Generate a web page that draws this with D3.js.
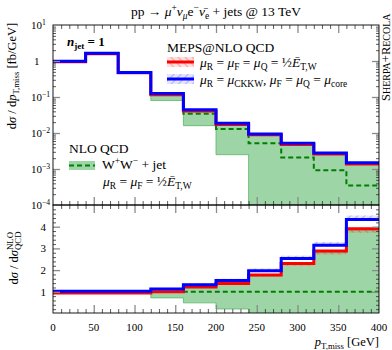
<!DOCTYPE html>
<html><head><meta charset="utf-8">
<script src="https://cdn.jsdelivr.net/npm/d3@7"></script>
<style>
body{margin:0;background:#fff}
svg{display:block}
text{font-family:"Liberation Serif","DejaVu Serif",serif;fill:#000}
</style>
</head><body>
<svg id="c" width="392" height="350"></svg>
<script>
// ---------- data ----------
const binEdges = [0,40,80,120,160,200,240,280,320,360,400];
// upper panel: dsigma/dpT,miss [fb/GeV]
const coreMain = [0.95,1.6,0.47,0.115,0.041,0.0172,0.0090,0.0048,0.0026,0.00137];      // red  mu = 1/2 E_T,W
const coreMainLo = [0.93,1.57,0.46,0.112,0.040,0.0168,0.0088,0.0047,0.00253,0.00133];
const coreMainHi = [0.96,1.62,0.475,0.116,0.0415,0.0174,0.0091,0.00485,0.00263,0.00139];
const ckkwMain = [0.98,1.65,0.48,0.126,0.044,0.0186,0.0094,0.0052,0.0028,0.0015];      // blue mu = mu_CKKW
const ckkwMainLo = [0.97,1.63,0.475,0.124,0.0435,0.0184,0.0093,0.00515,0.00277,0.00148];
const ckkwMainHi = [1.01,1.69,0.495,0.13,0.0455,0.0192,0.0098,0.0054,0.00292,0.00155];
const nloMain = [null,null,null,0.115,0.034,0.0129,0.0052,0.0021,0.00092,0.00035];     // NLO QCD W+W- + jet
const nloMainLo = [null,null,null,0.08,0.016,0.0025,0,0,0,0];
const nloMainHi = [null,null,null,0.113,0.040,0.017,0.0088,0.0047,0.00255,0.00134];
// lower panel: ratio to NLO QCD
const coreRatio = [0.95,0.95,0.95,1.0,1.22,1.38,1.77,2.3,2.88,3.9];
const coreRatioLo = [0.91,0.91,0.91,0.96,1.17,1.32,1.7,2.2,2.72,3.72];
const coreRatioHi = [0.97,0.97,0.97,1.02,1.24,1.4,1.8,2.34,2.92,3.95];
const ckkwRatio = [1.02,1.02,1.03,1.13,1.33,1.52,1.97,2.54,3.14,4.33];
const ckkwRatioLo = [1.0,1.0,1.01,1.11,1.31,1.5,1.94,2.51,3.1,4.29];
const ckkwRatioHi = [1.07,1.07,1.08,1.19,1.41,1.6,2.07,2.66,3.3,4.52];
const nloRatio = [null,null,null,1,1,1,1,1,1,1];
const nloRatioLo = [null,null,null,0.72,0.49,0.21,0,0,0,0];
const nloRatioHi = [null,null,null,0.99,1.2,1.36,1.74,2.26,2.84,3.86];
// ticks
const xTicks = [0,50,100,150,200,250,300,350,400];
const upperTicks = [10,1,0.1,0.01,0.001,0.0001];
const upperTickExp = [1,0,-1,-2,-3,-4];
const lowerTicks = [1,2,3,4];

// ---------- layout ----------
const X0=53, X1=379, YT=25, YM=205, YB=313;
const svg = d3.select('#c');
const x = d3.scaleLinear().domain([0,400]).range([X0,X1]);
const yU = d3.scaleLog().domain([1e-4,10]).range([YM,YT]);
const yL = d3.scaleLinear().domain([0,5]).range([YB+0.5,YM]);

const RED='#ff0000', BLUE='#0000ff', GFILL='#9dd5a6', GEDGE='#5cb567', GDASH='#007f00';

const defs = svg.append('defs');
function hatch(id, color, bg, angle){
  const p = defs.append('pattern').attr('id',id).attr('width',5).attr('height',5)
    .attr('patternUnits','userSpaceOnUse').attr('patternTransform','rotate('+angle+')');
  p.append('rect').attr('width',5).attr('height',5).attr('fill',bg);
  p.append('line').attr('x1',0).attr('y1',0).attr('x2',0).attr('y2',5).attr('stroke',color).attr('stroke-width',1.2);
}
hatch('hR','rgba(255,0,0,0.5)','rgba(255,0,0,0.12)',-45);
hatch('hB','rgba(0,0,255,0.4)','rgba(0,0,255,0.1)',45);
defs.append('clipPath').attr('id','cU').append('rect').attr('x',X0).attr('y',YT).attr('width',X1-X0).attr('height',YM-YT);
defs.append('clipPath').attr('id','cL').append('rect').attr('x',X0).attr('y',YM).attr('width',X1-X0).attr('height',YB-YM);

function pts(vals){ return binEdges.map((e,i)=>({x:e, v: vals[Math.min(i, vals.length-1)]})); }
function bandPts(lo,hi){ return binEdges.map((e,i)=>{const k=Math.min(i,lo.length-1); return {x:e, lo:lo[k], hi:hi[k]};}); }

function drawPanel(g, y, minV, d){
  const Y = v => y(Math.max(v, minV));
  const line = d3.line().defined(p=>p.v!=null).x(p=>x(p.x)).y(p=>Y(p.v)).curve(d3.curveStepAfter);
  const area = d3.area().defined(p=>p.lo!=null).x(p=>x(p.x)).y0(p=>Y(p.lo)).y1(p=>Y(p.hi)).curve(d3.curveStepAfter);
  g.append('path').attr('d',area(bandPts(d.nloLo,d.nloHi))).attr('fill',GFILL).attr('stroke',GEDGE).attr('stroke-width',0.8);
  g.append('path').attr('d',line(pts(d.nlo))).attr('fill','none').attr('stroke',GDASH).attr('stroke-width',2).attr('stroke-dasharray','5,3');
  g.append('path').attr('d',area(bandPts(d.coreLo,d.coreHi))).attr('fill','url(#hR)');
  g.append('path').attr('d',area(bandPts(d.ckkwLo,d.ckkwHi))).attr('fill','url(#hB)');
  g.append('path').attr('d',line(pts(d.core))).attr('fill','none').attr('stroke',RED).attr('stroke-width',3);
  g.append('path').attr('d',line(pts(d.ckkw))).attr('fill','none').attr('stroke',BLUE).attr('stroke-width',3);
}
drawPanel(svg.append('g').attr('clip-path','url(#cU)'), yU, 1e-4,
  {nlo:nloMain,nloLo:nloMainLo,nloHi:nloMainHi,core:coreMain,coreLo:coreMainLo,coreHi:coreMainHi,ckkw:ckkwMain,ckkwLo:ckkwMainLo,ckkwHi:ckkwMainHi});
drawPanel(svg.append('g').attr('clip-path','url(#cL)'), yL, 0,
  {nlo:nloRatio,nloLo:nloRatioLo,nloHi:nloRatioHi,core:coreRatio,coreLo:coreRatioLo,coreHi:coreRatioHi,ckkw:ckkwRatio,ckkwLo:ckkwRatioLo,ckkwHi:ckkwRatioHi});

// ---------- axes / ticks ----------
const MAJ='#8a8a8a', MIN='#333';
function styleAxis(g, col, w){ g.select('.domain').remove(); g.selectAll('.tick line').attr('stroke',col).attr('stroke-width',w); g.selectAll('.tick text').remove(); }
const xMinor = d3.range(0,401,10).filter(v=>v%50!==0);
[[YT,'top'],[YM,'bottom'],[YM,'top'],[YB,'bottom']].forEach(([yy,side])=>{
  const mk = side==='top' ? d3.axisBottom : d3.axisTop;
  svg.append('g').attr('transform',`translate(0,${yy})`).call(mk(x).tickValues(xMinor).tickSize(4).tickFormat('')).call(g=>styleAxis(g,MIN,0.8));
  svg.append('g').attr('transform',`translate(0,${yy})`).call(mk(x).tickValues(xTicks.slice(1,-1)).tickSize(8).tickFormat('')).call(g=>styleAxis(g,MAJ,1.3));
});
const uMinor = [];
for(let e=-4;e<1;e++) for(let m=2;m<10;m++) uMinor.push(m*Math.pow(10,e));
[[X0,d3.axisRight],[X1,d3.axisLeft]].forEach(([xx,mk])=>{
  svg.append('g').attr('transform',`translate(${xx},0)`).call(mk(yU).tickValues(uMinor).tickSize(3).tickFormat('')).call(g=>styleAxis(g,MIN,0.8));
  svg.append('g').attr('transform',`translate(${xx},0)`).call(mk(yU).tickValues(upperTicks.slice(1,-1)).tickSize(7).tickFormat('')).call(g=>styleAxis(g,MAJ,1.3));
  svg.append('g').attr('transform',`translate(${xx},0)`).call(mk(yL).tickValues(d3.range(0.2,5,0.2).filter(v=>Math.abs(v-Math.round(v))>0.01)).tickSize(3).tickFormat('')).call(g=>styleAxis(g,MIN,0.8));
  svg.append('g').attr('transform',`translate(${xx},0)`).call(mk(yL).tickValues(lowerTicks).tickSize(7).tickFormat('')).call(g=>styleAxis(g,MAJ,1.3));
});
svg.append('rect').attr('x',X0).attr('y',YT).attr('width',X1-X0).attr('height',YM-YT).attr('fill','none').attr('stroke','#000').attr('stroke-width',0.9);
svg.append('rect').attr('x',X0).attr('y',YM).attr('width',X1-X0).attr('height',YB-YM).attr('fill','none').attr('stroke','#000').attr('stroke-width',0.9);

// ---------- text helper ----------
function rich(g, xx, yy, parts, o={}){
  const fs = o.size||12;
  const t = g.append('text').attr('x',xx).attr('y',yy).attr('font-size',fs).attr('text-anchor',o.anchor||'start');
  if(o.transform) t.attr('transform',o.transform);
  if(o.bold) t.attr('font-weight','bold');
  let lastSup=null;
  parts.forEach(p=>{
    const [s,st] = Array.isArray(p)?p:[p,''];
    const ts = t.append('tspan').text(s);
    if(st.includes('i')) ts.attr('font-style','italic');
    if(st.includes('b')) ts.attr('font-weight','bold');
    if(st.includes('_')) ts.attr('font-size',fs*0.7).style('baseline-shift',(-fs*0.25)+'px');
    if(st.includes('^')) ts.attr('font-size',fs*0.7).style('baseline-shift',(fs*0.4)+'px');
    if(st.includes('&') && lastSup) ts.attr('dx', -lastSup.node().getComputedTextLength());
    if(st.includes('^')) lastSup=ts;
  });
  return t;
}

upperTicks.forEach((v,i)=>{
  const yy = yU(v)+4;
  if(upperTickExp[i]===0) rich(svg, 34, yy, ['1'], {size:11});
  else rich(svg, 31, yy, ['10',[(upperTickExp[i]<0?'\u2212':'')+Math.abs(upperTickExp[i]),'^']], {size:11});
});
lowerTicks.forEach(v=> rich(svg, 46, yL(v)+4, [String(v)], {size:11, anchor:'end'}));
xTicks.forEach(v=> rich(svg, x(v), 331, [String(v)], {size:11, anchor:'middle'}));

rich(svg, X1, 346, [['p','i'],['T,miss','_'],' [GeV]'], {size:12.5, anchor:'end'});
rich(svg, 0, 0, ['d',['\u03c3','i'],' / d',['p','i'],['T,miss','_'],' [fb/GeV]'], {size:12.5, anchor:'middle', transform:'translate(16,76) rotate(-90)'});
rich(svg, 0, 0, ['d',['\u03c3','i'],' / d',['\u03c3','i'],['NLO','^'],['QCD','_&']], {size:12.5, anchor:'middle', transform:'translate(18,258) rotate(-90)'});

rich(svg, 216, 16, ['pp \u2192 ',['\u03bc','i'],['+','^'],['\u03bd','i'],['\u03bc','_i'],'e',['\u2212','^'],['\u03bd\u0304','i'],['e','_'],' + jets @ 13 TeV'], {size:13.5, anchor:'middle'});

const sr = svg.append('text').attr('transform','translate(390,101) rotate(-90)').attr('font-size',12);
[['S',12.5],['HERPA',10],['+',12.5],['R',12.5],['ECOLA',10]].forEach(([s,f])=>sr.append('tspan').attr('font-size',f).text(s));

rich(svg, 67, 46, [['n','bi'],['jet','_b'],' = 1'], {size:13, bold:true});

rich(svg, 167, 52, ['MEPS@NLO QCD'], {size:13.5});
[[62,'url(#hR)',RED],[79,'url(#hB)',BLUE]].forEach(([yy,f,c])=>{
  svg.append('rect').attr('x',167).attr('y',yy-5).attr('width',27).attr('height',10).attr('fill',f);
  svg.append('line').attr('x1',167).attr('x2',194).attr('y1',yy).attr('y2',yy).attr('stroke',c).attr('stroke-width',3);
});
rich(svg, 200, 67, [['\u03bc','i'],['R','_'],' = ',['\u03bc','i'],['F','_'],' = ',['\u03bc','i'],['Q','_'],' = \u00bd',['\u0112','i'],['T,W','_']], {size:13.5});
rich(svg, 200, 84, [['\u03bc','i'],['R','_'],' = ',['\u03bc','i'],['CKKW','_'],', ',['\u03bc','i'],['F','_'],' = ',['\u03bc','i'],['Q','_'],' = ',['\u03bc','i'],['core','_']], {size:13.5});

rich(svg, 69, 153, ['NLO QCD'], {size:13.5});
svg.append('rect').attr('x',69).attr('y',161).attr('width',26).attr('height',9).attr('fill',GFILL);
svg.append('line').attr('x1',69).attr('x2',95).attr('y1',165.5).attr('y2',165.5).attr('stroke',GDASH).attr('stroke-width',2).attr('stroke-dasharray','5,3');
rich(svg, 102, 169, ['W',['+','^'],'W',['\u2212','^'],' + jet'], {size:13.5});
rich(svg, 103, 186, [['\u03bc','i'],['R','_'],' = ',['\u03bc','i'],['F','_'],' = \u00bd',['\u0112','i'],['T,W','_']], {size:13.5});
</script>
</body></html>
